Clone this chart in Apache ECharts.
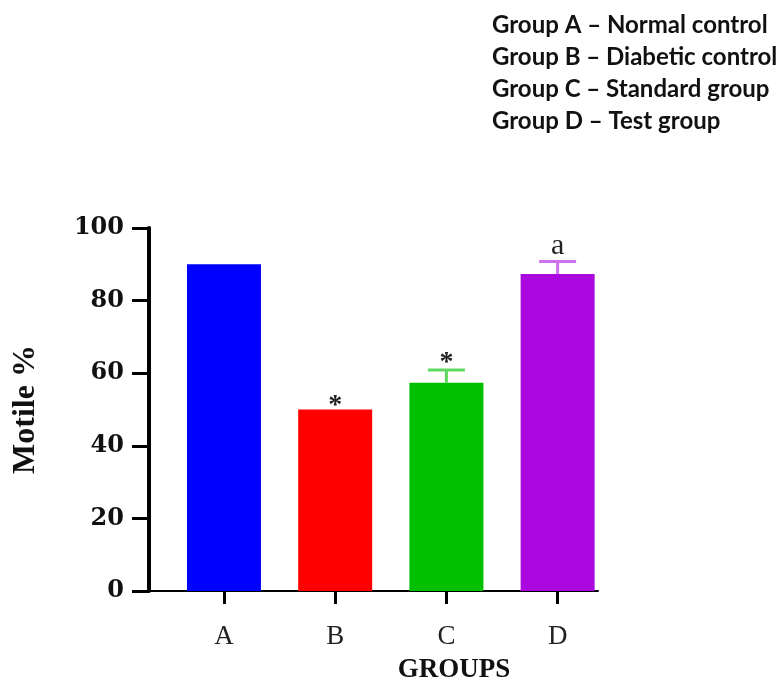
<!DOCTYPE html>
<html>
<head>
<meta charset="utf-8">
<script src="https://cdn.jsdelivr.net/npm/echarts@6/dist/echarts.min.js"></script>
<style>
  html, body { margin: 0; padding: 0; background: #ffffff; }
  #chart { width: 776px; height: 682px; }
</style>
</head>
<body>
<div id="chart"></div>
<script>
// Sperm motility by treatment group
const groups = ['A', 'B', 'C', 'D'];
const motile = [90, 50, 57.4, 87.3];
const motileErr = [0, 0, 3.5, 3.5];
const marks = ['', '*', '*', 'a'];
const yTicks = [0, 20, 40, 60, 80, 100];
const groupNotes = [
  'Group A \u2013 Normal control',
  'Group B \u2013 Diabetic control',
  'Group C \u2013 Standard group',
  'Group D \u2013 Test group'
];

const barColors = ['#0000ff', '#ff0000', '#00c000', '#aa08df'];
const errColors = ['#6a6aff', '#ff6a6a', '#5fd85f', '#d070ee'];

const positions = groups.map((g, i) => i);

const chart = echarts.init(document.getElementById('chart'), null, { renderer: 'canvas' });

chart.setOption({
  backgroundColor: '#ffffff',
  animation: false,
  title: {
    text: groupNotes.join('\n'),
    left: 492,
    top: 9,
    padding: 0,
    textStyle: {
      fontFamily: 'Lato',
      fontWeight: 'bold',
      fontSize: 24,
      lineHeight: 32,
      color: '#111111'
    }
  },
  grid: { left: 149, right: 178, top: 228, bottom: 91, containLabel: false, outerBoundsMode: 'none' },
  xAxis: {
    type: 'value',
    min: -0.674,
    max: 3.363,
    splitLine: { show: false },
    name: 'GROUPS',
    nameLocation: 'middle',
    nameGap: 66,
    nameTextStyle: {
      fontFamily: 'Liberation Serif',
      fontWeight: 'bold',
      fontSize: 27,
      color: '#111111',
      padding: [0, 0, 0, 161]
    },
    axisLine: { show: true, onZero: false, lineStyle: { color: '#000000', width: 2 } },
    axisTick: { show: true, customValues: positions, length: 13, lineStyle: { color: '#000000', width: 3 } },
    axisLabel: {
      customValues: positions,
      formatter: v => groups[Math.round(v)],
      margin: 32,
      fontFamily: 'Liberation Serif',
      fontSize: 27,
      color: '#222222'
    }
  },
  yAxis: {
    type: 'value',
    min: 0,
    max: 100,
    interval: 20,
    splitLine: { show: false },
    name: 'Motile %',
    nameLocation: 'middle',
    nameGap: 107,
    nameTextStyle: {
      fontFamily: 'Liberation Serif',
      fontWeight: 'bold',
      fontSize: 32,
      color: '#111111'
    },
    axisLine: { show: true, onZero: false, lineStyle: { color: '#000000', width: 4 } },
    axisTick: { show: true, length: 17, lineStyle: { color: '#000000', width: 3 } },
    axisLabel: {
      margin: 25,
      formatter: v => (yTicks.indexOf(v) >= 0 ? String(v) : ''),
      fontFamily: 'DejaVu Serif',
      fontWeight: 'bold',
      fontSize: 24,
      color: '#111111'
    }
  },
  series: [
    {
      type: 'bar',
      barWidth: 74,
      data: motile.map((v, i) => ({ value: [positions[i], v], itemStyle: { color: barColors[i] } })),
      z: 2
    },
    {
      type: 'custom',
      z: 3,
      data: motile.map((v, i) => [positions[i], v, motileErr[i], i]),
      renderItem: function (params, api) {
        const x = api.value(0);
        const v = api.value(1);
        const e = api.value(2);
        const idx = api.value(3);
        const base = api.coord([x, v]);
        const top = api.coord([x, v + e]);
        const children = [];
        if (e > 0) {
          const style = { stroke: errColors[idx], lineWidth: 3 };
          children.push({ type: 'line', shape: { x1: base[0], y1: base[1], x2: top[0], y2: top[1] }, style: style });
          children.push({ type: 'line', shape: { x1: top[0] - 18.5, y1: top[1], x2: top[0] + 18.5, y2: top[1] }, style: style });
        }
        const mark = marks[idx];
        if (mark) {
          const isStar = mark === '*';
          children.push({
            type: 'text',
            style: {
              text: mark,
              x: top[0],
              y: top[1] - (isStar ? (e > 0 ? 7 : 4) : 15),
              align: 'center',
              verticalAlign: 'middle',
              fontFamily: 'Liberation Serif',
              fontWeight: isStar ? 'bold' : 'normal',
              fontSize: isStar ? 28 : 30,
              fill: '#222222'
            }
          });
        }
        return { type: 'group', children: children };
      }
    }
  ]
});
</script>
</body>
</html>
